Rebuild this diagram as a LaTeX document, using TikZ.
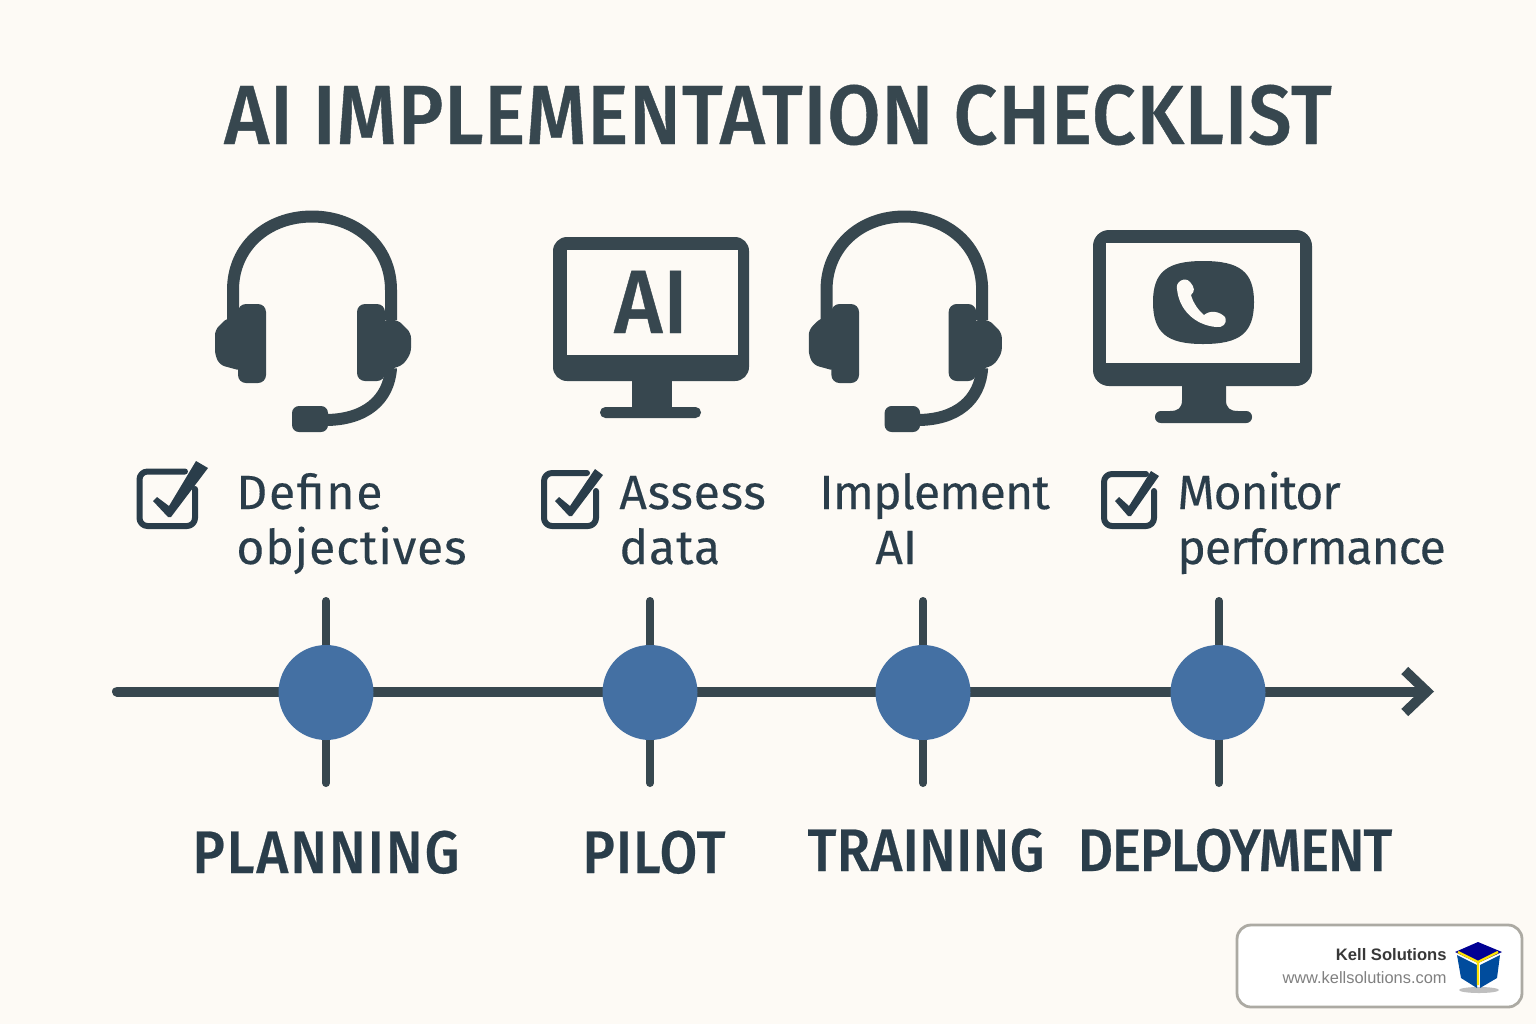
\documentclass[tikz,border=0pt]{standalone}
\usepackage{fontspec}
\setmainfont{Fira Sans}
\newfontfamily\titlefont[LetterSpace=1,FakeStretch=0.92,FakeBold=0.5]{Fira Sans Medium}
\newfontfamily\stagefont[FakeStretch=0.91,FakeBold=0.4]{Fira Sans Medium}
\newfontfamily\stepfont[FakeBold=0.2]{Fira Sans}
\newfontfamily\badgefont{Liberation Sans}
\usetikzlibrary{arrows.meta}
\definecolor{paper}{HTML}{FDFAF5}
\definecolor{slate}{HTML}{37474F}
\definecolor{ink}{HTML}{2A3D4A}
\definecolor{dotblue}{HTML}{4470A3}
\newcommand{\spaced}[2]{{\addfontfeature{LetterSpace=#1}#2}}
\tikzset{
  stagelabel/.style={text=ink,font=\stagefont\fontsize{30}{30}\selectfont,anchor=base},
  steplabel/.style={text=ink,font=\stepfont\fontsize{24}{27.5}\selectfont,anchor=base west,align=left,inner sep=0pt},
  milestone/.style={circle,fill=dotblue,minimum size=47.5pt,inner sep=0pt},
  tickline/.style={slate,line width=4pt},
  boxline/.style={ink,line width=3pt,rounded corners=4pt},
  headset/.pic={
    \draw[slate,line width=6pt,line cap=butt] (233,320) -- (233,290) .. controls (233,246) and (268,216.5) .. (312,216.5)
      .. controls (356,216.5) and (391,246) .. (391,290) -- (391,320);
    \fill[slate,rounded corners=4pt] (238,304) rectangle (266,383);
    \fill[slate,rounded corners=2.5pt] (242,318) -- (227,318) -- (215,330) -- (215,355) -- (220,365) -- (242,371) -- cycle;
    \fill[slate,rounded corners=4pt] (357,304) rectangle (385,381);
    \fill[slate,rounded corners=2.5pt] (382,320) -- (398,320) -- (411,333) -- (411,353) -- (403,365) -- (382,372) -- cycle;
    \draw[slate,line width=6pt,line cap=butt] (391,368) .. controls (389,400) and (365,420) .. (325,420);
    \fill[slate,rounded corners=3.5pt] (292,406) rectangle (328,432);
  },
  monitor/.style={slate,even odd rule}
}
\begin{document}
\begin{tikzpicture}[x=0.5pt,y=-0.5pt,>={Straight Barb[length=11pt,width=21pt,line width=5pt]},line join=round,line cap=round]
\useasboundingbox (0,0) rectangle (1536,1024);
\fill[paper] (0,0) rectangle (1536,1024);
\node[text=slate,font=\titlefont\fontsize{42}{42}\selectfont,anchor=base] (title) at (778,144) {AI IMPLEMENTATION CHECKLIST};
% icons
\pic at (0,0) {headset};
\pic[xscale=.985] at (597,0) {headset};
\fill[monitor,rounded corners=7pt] (553,237) rectangle (749,381);
\fill[paper] (567,250) rectangle (738,355);
\fill[slate] (632,378) rectangle (672,410);
\fill[slate,rounded corners=2.7pt] (600,407) rectangle (701,418);
\node[text=slate,font=\titlefont\fontsize{45}{45}\selectfont,anchor=base] (aiscreen) at (651,333) {AI};
\fill[monitor,rounded corners=8pt] (1093,230) rectangle (1312,386);
\fill[paper] (1106,243) rectangle (1300,363);
\fill[slate] (1182,383) -- (1226,383) -- (1226,400) .. controls (1226,408) and (1230,411) .. (1238,411) -- (1182,411) -- cycle;
\fill[slate] (1182,383) -- (1182,400) .. controls (1182,408) and (1178,411) .. (1170,411) -- (1226,411) -- cycle;
\fill[slate,rounded corners=2.9pt] (1155,411) rectangle (1252,423);
\fill[slate] (1203,261) .. controls (1240,261) and (1254,272) .. (1254,302)
  .. controls (1254,333) and (1240,344) .. (1203,344) .. controls (1167,344) and (1153,333) .. (1153,302)
  .. controls (1153,272) and (1167,261) .. (1203,261) -- cycle;
\fill[paper] (1177,289) .. controls (1175,282) and (1185,276) .. (1190,282) .. controls (1195,288) and (1195,291) .. (1191,295)
  .. controls (1193,303) and (1199,311) .. (1204,315) .. controls (1210,310) and (1219,311) .. (1225,317)
  .. controls (1228,324) and (1222,328) .. (1216,327) .. controls (1195,325) and (1179,310) .. (1177,289) -- cycle;
% checklist
\draw[boxline] (185,471.5) -- (139.5,471.5) -- (139.5,526) -- (195,526) -- (195,489);
\fill[ink] (153,501) -- (157,497) -- (169,506) -- (196,461) -- (208,468) -- (171,517) -- (168,517) -- cycle;
\draw[boxline] (587,473) -- (544,473) -- (544,526) -- (596,526) -- (596,491);
\fill[ink] (555,501) -- (559,497) -- (570,506) -- (595,469) -- (603,475) -- (572,516) -- (569,516) -- cycle;
\draw[boxline] (1146,474) -- (1104,474) -- (1104,526) -- (1154,526) -- (1154,491);
\fill[ink] (1115,501) -- (1119,497) -- (1129,506) -- (1151,471) -- (1159,476) -- (1131,516) -- (1128,516) -- cycle;
\node[steplabel] (define) at (236,564) {\spaced{3.7}{Define}\\\spaced{1.9}{objectives}};
\node[steplabel] (assess) at (619,564) {\spaced{1.7}{Assess}\\\spaced{2}{data}};
\node[steplabel] (implement) at (819,564) {\spaced{-1.6}{Implement}\\\hspace*{28pt}AI};
\node[steplabel] (monitor) at (1177,564) {\spaced{-2.4}{Monitor}\\\spaced{-2.2}{performance}};
% timeline
\coordinate (axisstart) at (117,691.5);
\coordinate (axisend) at (1434,691.5);
\foreach \name/\xpos in {planning/326,pilot/650,training/923,deployment/1219}{
  \coordinate (\name top) at (\xpos,601);
  \coordinate (\name bottom) at (\xpos,783);
  \draw[tickline] (\name top) -- (\name bottom);
}
\draw[->,slate,line width=5pt] (axisstart) -- (axisend);
\node[milestone] (planning) at (326,692.5) {};
\node[milestone] (pilot) at (650,692.5) {};
\node[milestone] (training) at (923,692.5) {};
\node[milestone] (deployment) at (1218,692.5) {};
\node[stagelabel] (planninglabel) at (326,873) {\spaced{3.4}{PLANNING}};
\node[stagelabel] (pilotlabel) at (654,873) {\spaced{1.9}{PILOT}};
\node[stagelabel] (traininglabel) at (926,871) {\spaced{0.6}{TRAINING}};
\node[stagelabel] (deploymentlabel) at (1235,871) {\spaced{-2}{DEPLOYMENT}};
% badge
\node[draw={rgb,255:red,172;green,170;blue,163},line width=1.4pt,fill=white,rounded corners=7pt,minimum width=142.5pt,minimum height=41pt,inner sep=0pt] (badge) at (1379.5,966) {};
\node[text=black!78,font=\badgefont\bfseries\fontsize{8.3}{8.3}\selectfont,anchor=base east,inner sep=0pt] (kell) at (1447,960) {Kell Solutions};
\node[text=black!50,font=\badgefont\fontsize{8.2}{8.2}\selectfont,anchor=base east,inner sep=0pt] (kellweb) at (1447,983) {www.kellsolutions.com};
\fill[black!25] (1479,990) ellipse (20 and 3);
\fill[blue!30!black!60!blue] (1478,942) -- (1502,952) -- (1478,963) -- (1455,952) -- cycle;
\fill[blue!45!black!70!cyan] (1457,955) -- (1477,965) -- (1477,988) -- (1461,978) -- cycle;
\fill[blue!45!black!70!cyan] (1500,955) -- (1480,965) -- (1480,988) -- (1497,978) -- cycle;
\draw[yellow!85!orange,line width=1.2pt,line cap=butt] (1458,952) -- (1478,962) -- (1498,952) (1478,962) -- (1478,985);
\end{tikzpicture}
\end{document}
